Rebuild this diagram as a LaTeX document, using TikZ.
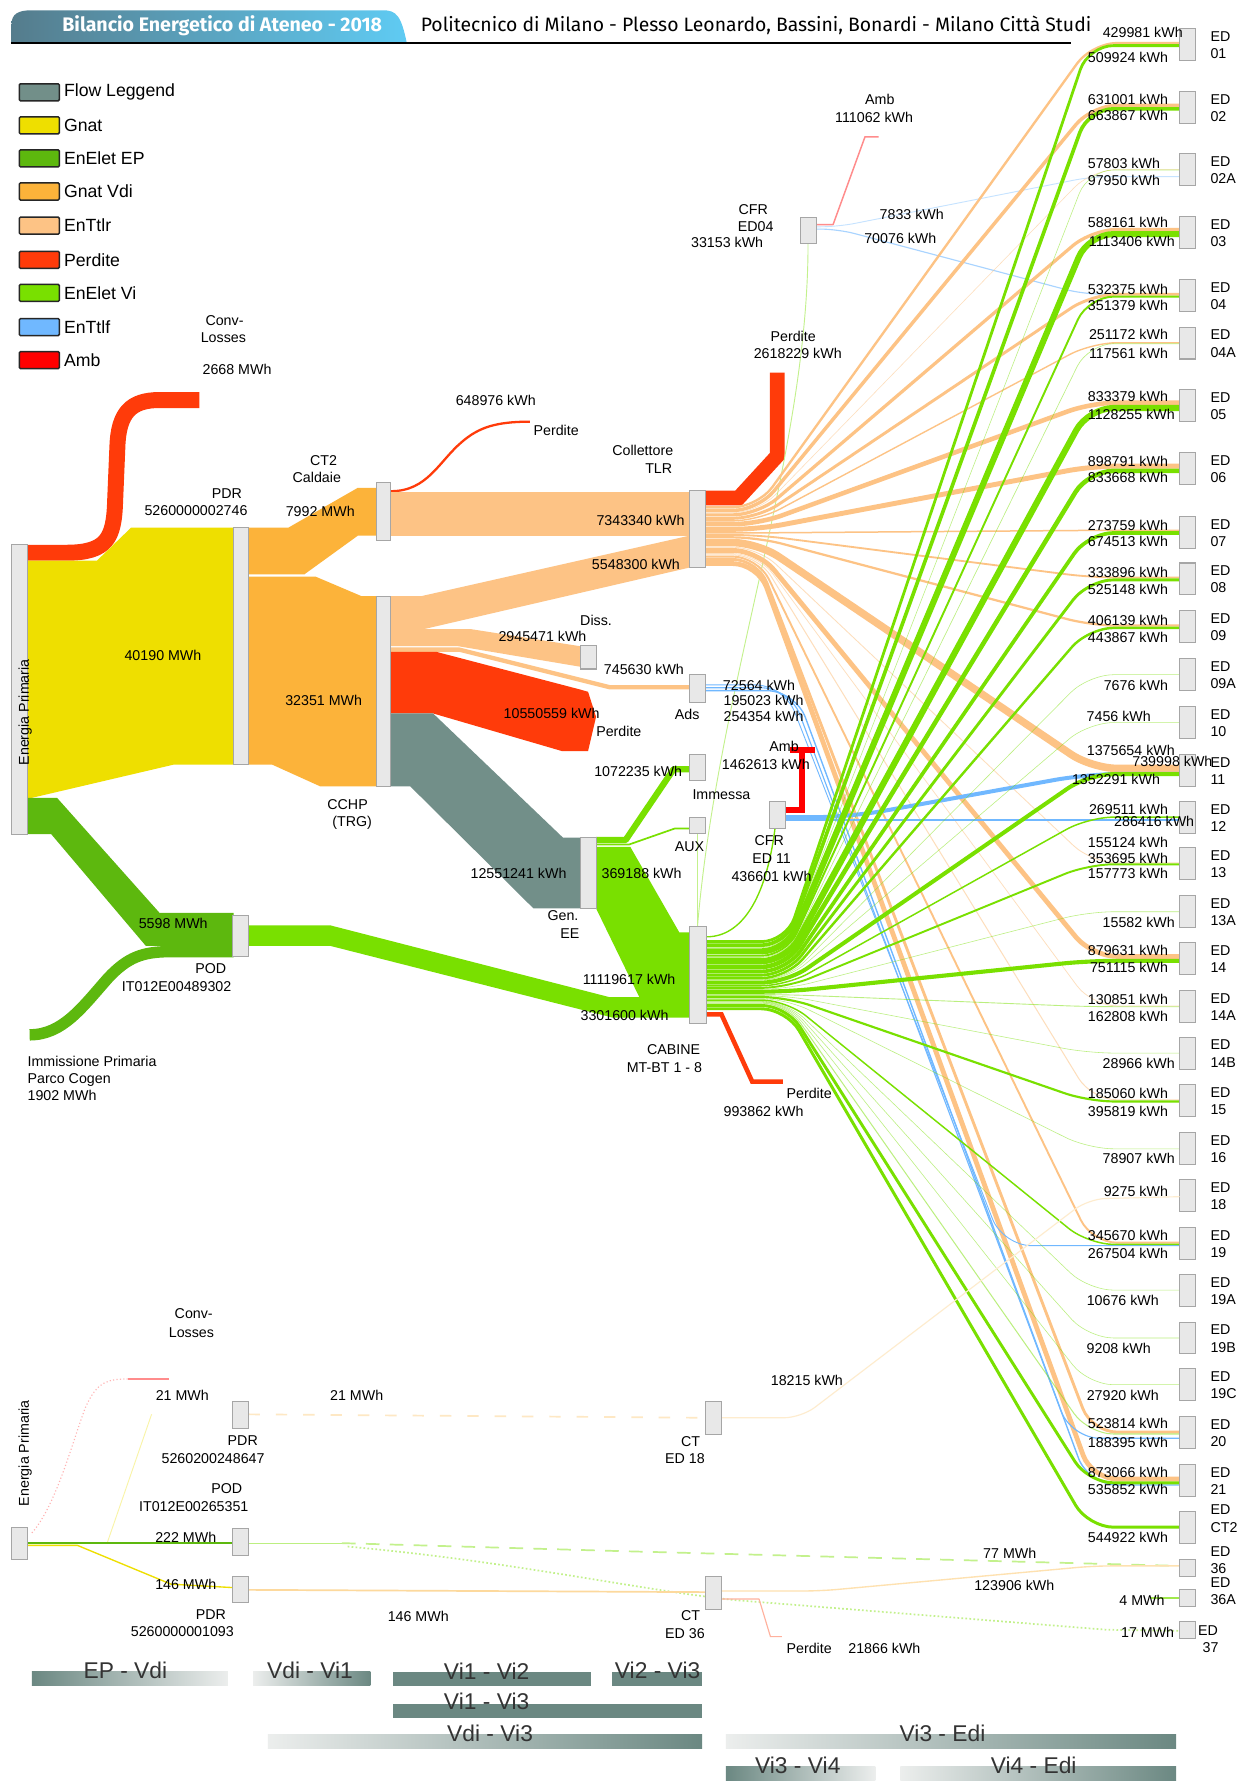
\documentclass[tikz,border=0pt]{standalone}
\usepackage{fontspec}
\setmainfont{Liberation Sans}
\newfontfamily\titlefont{Fira Sans}
\begin{document}
\definecolor{cgrey}{HTML}{728F89}
\definecolor{cgnat}{HTML}{EEDF00}
\definecolor{cep}{HTML}{5DB80E}
\definecolor{cvdi}{HTML}{FCB33A}
\definecolor{cttr}{HTML}{FDC385}
\definecolor{cper}{HTML}{FF3B0A}
\definecolor{cvi}{HTML}{79E000}
\definecolor{cttf}{HTML}{70B8FF}
\definecolor{camb}{HTML}{FF0000}
\definecolor{nodefill}{HTML}{E8E8E8}
\definecolor{nodeline}{HTML}{A6A6A6}
\definecolor{tabdark}{HTML}{557C8C}
\definecolor{tablight}{HTML}{5FCBF3}
\definecolor{bardark}{HTML}{6B8882}
\definecolor{barlight}{HTML}{ECEEED}
\newcommand\lblfont{\fontsize{12.5}{15}\selectfont}
\newcommand\legfont{\fontsize{15.5}{17}\selectfont}
\newcommand\bartxtfont{\fontsize{20}{22}\selectfont}
\newcommand\mkbar[5]{\node[bar,minimum width=#4pt,minimum height=#5pt] (#1) at (#2,#3) {};}
\begin{tikzpicture}[x=1pt,y=-1pt,
 bar/.style={draw=nodeline,fill=nodefill,line width=0.9pt,inner sep=0pt,outer sep=0pt,anchor=north west},
 lbl/.style={font=\lblfont,inner sep=0pt},
 vl/.style={lbl,anchor=east},
 legbox/.style={draw=black!85,line width=1.3pt,minimum width=35pt,minimum height=15pt,inner sep=0pt,rounded corners=1pt},
 legtxt/.style={font=\legfont,anchor=west,inner sep=0pt},
 bartxt/.style={font=\bartxtfont,text=black!80,inner sep=0pt},
 thin/.style={line width=#1pt,line cap=butt,line join=round},
]
\useasboundingbox (0,0) rectangle (1087,1568);
\fill[white] (0,0) rectangle (1087,1568);

% ---------------- title
\shade[left color=tabdark,right color=tablight] (10,38) -- (10,22) .. controls (10,12) and (16,9) .. (28,9) -- (336,9) .. controls (348,9) and (352,14) .. (357,38) -- cycle;
\node[text=white,font=\titlefont\bfseries\fontsize{17.2}{19}\selectfont,inner sep=0pt] (title) at (195,23) {Bilancio Energetico di Ateneo - 2018};
\node[anchor=west,font=\titlefont\fontsize{17}{19}\selectfont,inner sep=0pt] (subtitle) at (369,22) {Politecnico di Milano - Plesso Leonardo, Bassini, Bonardi - Milano Città Studi};
\draw[line width=2pt] (10,38) -- (940,38);

% ---------------- legend
\foreach \yy/\col/\txt [count=\i] in {81/cgrey/Flow Leggend,110/cgnat/Gnat,139/cep/EnElet EP,168/cvdi/Gnat Vdi,198/cttr/EnTtlr,228/cper/Perdite,257/cvi/EnElet Vi,287/cttf/EnTtlf,316/camb/Amb}{
  \node[legbox,fill=\col] (leg\i) at (34.5,\yy) {};
  \node[legtxt] (legt\i) at (56,\yy) {\txt};
}

% ---------------- main flows (Vdi part)
\draw[cper,thin=14] (24,485) -- (58,485) .. controls (94,485) and (100,472) .. (101,440) -- (103,392) .. controls (104,362) and (115,351) .. (140,351) -- (175,351);
\fill[cgnat] (24,492) -- (85,492) -- (115,463) -- (205,463) -- (205,671) -- (152,671) -- (24,701) -- cycle;
\fill[cep] (24,700) -- (50,700) -- (140,801) -- (205,801) -- (205,830) -- (128,830) -- (45,732) -- (24,732) -- cycle;
\draw[cep,thin=10] (26,908) .. controls (55,908) and (72,884) .. (95,858) .. controls (112,840) and (125,835) .. (150,835) -- (205,835);
\fill[cvdi] (218,463) -- (253,463) -- (314,428) -- (330,428) -- (330,470) -- (314,470) -- (267,504) -- (218,504) -- cycle;
\fill[cvdi] (218,506) -- (277,506) -- (317,523) -- (330,523) -- (330,690) -- (281,690) -- (239,671) -- (218,671) -- cycle;
\draw[cper,thin=2] (343,431) .. controls (375,431) and (385,405) .. (405,388) .. controls (420,375) and (435,370) .. (465,370);
\fill[cttr] (343,432) -- (605,432) -- (605,470) -- (343,470) -- cycle;
\fill[cttr] (343,523) -- (370,523) -- (605,470) -- (605,498) -- (372,552) -- (343,552) -- cycle;
\fill[cttr] (343,552) -- (413,552) -- (509,567) -- (509,585) -- (402,567) -- (343,567) -- cycle;
\draw[cttr,thin=3.8] (343,570) -- (403,570) -- (535,603) -- (605,603);
\fill[cper] (343,572) -- (383,572) -- (509,605) -- (516,607) -- (523,629) -- (516,659) -- (493,659) -- (380,626) -- (343,626) -- cycle;
\fill[cgrey] (343,626) -- (380,626) -- (494,735) -- (509,735) -- (509,797) -- (468,797) -- (360,690) -- (343,690) -- cycle;
\draw[cvi,thin=5.5] (523,737) -- (549,737) -- (591,675) -- (605,675);
\draw[cvi,thin=1.5] (523,741) -- (552,741) -- (592,727) -- (605,727);
\fill[cvi] (523,743) -- (553,743) -- (596,818) -- (605,818) -- (605,875) -- (561,875) -- (523,797) -- cycle;
\fill[cvi] (218,812) -- (290,812) -- (535,875) -- (605,875) -- (605,893) -- (538,893) -- (290,830) -- (218,830) -- cycle;
\draw[cper,thin=13,line join=miter] (619,437) -- (648,437) -- (682,400) -- (682,327);
\draw[cper,thin=4,line join=miter] (620,890) -- (633,890) -- (660,949) -- (687,949);
\draw[cvi!45,thin=0.8] (612,813) .. controls (630,600) and (709,400) .. (709,214);
\draw[cvi!45,thin=0.8] (612,731) -- (612,813);
\draw[cvi,thin=1.2] (620,822) .. controls (650,822) and (672,790) .. (680,727);
\draw[camb!45,thin=1.3] (716,197) -- (731,197) -- (759,120) -- (771,120);
\draw[cttf!40,thin=0.8,rounded corners=15pt] (716,199) -- (735,199) -- (958,155) -- (1035,155);
\draw[cttf!60,thin=1,rounded corners=15pt] (716,201) -- (735,201) -- (950,258) -- (1035,258);

% ---------------- distribution to buildings
\def\EDlist{25/01/430.0/509.9/0, 80/02/631.0/663.9/0, 135/02A/57.8/98.0/0, 190/03/588.2/1113.4/0, 245/04/532.4/351.4/0, 287/04A/251.2/117.6/0, 342/05/833.4/1128.3/0, 397/06/898.8/833.7/0, 453/07/273.8/674.5/0, 494/08/333.9/525.1/0, 536/09/406.1/443.9/0, 578/09A/0/7.7/0, 620/10/0/7.5/0, 662/11/1375.7/740.0/0, 703/12/0/269.5/0, 744/13/155.1/353.7/0, 786/13A/0/15.6/0, 827/14/879.6/751.1/0, 869/14A/130.9/162.8/0, 910/14B/0/29.0/0, 952/15/185.1/395.8/0, 994/16/0/78.9/0, 1035/18/0/0/0, 1077/19/345.7/267.5/0, 1118/19A/0/10.7/0, 1160/19B/0/9.2/0, 1201/19C/0/27.9/0, 1243/20/523.8/188.4/0, 1285/21/873.1/535.9/0, 1326/CT2/0/544.9/-8}
\gdef\oy{444}
\foreach \t/\id/\vo/\vg/\dy in \EDlist {
  \pgfmathsetmacro\wo{\vo*0.0048}
  \pgfmathsetmacro\wg{\vg*0.0048}
  \ifdim\vo pt>0pt
    \pgfmathsetmacro\ys{\oy+\wo/2}
    \pgfmathsetmacro\ye{\t+14-(\wo+\wg)/2+\wo/2}
    \pgfmathsetmacro\lw{max(\wo,0.5)}
    \pgfmathsetmacro\op{(\wo<1) ? 0.55 : 1}
    \draw[cttr,line width=\lw pt,opacity=\op,rounded corners=22pt] (619,\ys) -- (665,\ys) -- (958,\ye) -- (1035,\ye);
    \pgfmathsetmacro\nx{\oy+\wo+0.33}
    \xdef\oy{\nx}
  \fi
}
\draw[cttf,thin=3.5,rounded corners=30pt] (689,717) -- (745,717) -- (955,679) -- (1035,679);
\draw[cttf,thin=1.5] (689,719.5) -- (1035,719.5);
\draw[cttf,thin=0.8,rounded corners=25pt] (619,601) -- (688,601) -- (880,1093) -- (1035,1093);
\draw[cttf,thin=1,rounded corners=25pt] (619,603.5) -- (693,603.5) -- (940,1262) -- (1035,1262);
\draw[cttf,thin=1.2,rounded corners=25pt] (619,606) -- (698,606) -- (955,1303) -- (1035,1303);
\gdef\gy{825}
\foreach \t/\id/\vo/\vg/\dy in \EDlist {
  \pgfmathsetmacro\wo{\vo*0.0048}
  \pgfmathsetmacro\wg{\vg*0.0048}
  \ifdim\vg pt>0pt
    \pgfmathsetmacro\ys{\gy+\wg/2}
    \pgfmathsetmacro\ye{\t+14-(\wo+\wg)/2+\wo+\wg/2}
    \pgfmathsetmacro\lw{max(\wg,0.5)}
    \pgfmathsetmacro\op{(\wg<1) ? 0.5 : 1}
    \draw[cvi,line width=\lw pt,opacity=\op,rounded corners=22pt] (620,\ys) -- (690,\ys) -- (955,\ye) -- (1035,\ye);
    \pgfmathsetmacro\nx{\gy+\wg+0.33}
    \xdef\gy{\nx}
  \fi
}
\draw[camb,thin=5,line join=miter] (689,711) -- (704,711) -- (704,658);
\draw[camb,thin=5] (693,658) -- (715,658);

% ---------------- bars (main)
\mkbar{ep}{10}{478}{14}{254}
\mkbar{pdr}{205}{463}{13}{208}
\mkbar{ct2}{330}{423}{13}{51}
\mkbar{cchp}{330}{523}{13}{167}
\mkbar{diss}{509}{566}{14}{21}
\mkbar{tlr}{605}{430}{14}{68}
\mkbar{ads}{605}{592}{14}{24}
\mkbar{imm}{605}{662}{14}{23}
\mkbar{aux}{605}{717}{14}{14}
\mkbar{cfr11}{675}{703}{14}{24}
\mkbar{genee}{509}{735}{14}{62}
\mkbar{pod}{204}{803}{14}{36}
\mkbar{cabine}{605}{813}{15}{85}
\mkbar{cfr04}{702}{191}{14}{23}
\foreach \t/\id/\vo/\vg/\dy in \EDlist {
  \node[bar,minimum width=14pt,minimum height=28pt] (ed\id) at (1035,\t) {};
  \node[lbl,anchor=north west,align=left] (edl\id) at (1062,\t+2.5+\dy) {ED\\\id};
}

% ---------------- labels (main)
\node[lbl,rotate=90] (eplbl) at (22,625) {Energia Primaria};
\foreach \xx/\yy/\txt [count=\i] in {197/281/Conv-,196/296/Losses,208/324/2668 MWh,435/351/648976 kWh,488/378/Perdite,199/433/PDR,172/448/5260000002746,284/404/CT2,278/419/Caldaie,281/449/7992 MWh,564/395/Collettore,578/411/TLR,696/295/Perdite,700/310/2618229 kWh,661/184/CFR,663/199/ED04,638/213/33153 kWh,772/87/Amb,767/103/111062 kWh,800/188/7833 kWh,790/209/70076 kWh,562/457/7343340 kWh,558/495/5548300 kWh,143/575/40190 MWh,284/615/32351 MWh,523/544/Diss.,476/558/2945471 kWh,565/587/745630 kWh,666/601/72564 kWh,670/615/195023 kWh,670/629/254354 kWh,603/627/Ads,484/626/10550559 kWh,543/642/Perdite,560/677/1072235 kWh,633/697/Immessa,688/655/Amb,672/671/1462613 kWh,605/743/AUX,675/738/CFR,677/753/ED 11,677/769/436601 kWh,305/706/CCHP,309/722/(TRG),455/766/12551241 kWh,563/766/369188 kWh,494/803/Gen.,500/819/EE,152/810/5598 MWh,185/850/POD,155/866/IT012E00489302,552/859/11119617 kWh,548/891/3301600 kWh,591/921/CABINE,583/937/MT-BT 1 - 8,710/959/Perdite,670/975/993862 kWh}{
  \node[lbl] (ml\i) at (\xx,\yy) {\txt};
}
\node[lbl,anchor=west,align=left] (immlbl) at (24,946) {Immissione Primaria\\Parco Cogen\\1902 MWh};
\foreach \yy/\xx/\txt [count=\i] in {28/1038/429981,50/1025/509924,87/1025/631001,101/1025/663867,143/1018/57803,158/1018/97950,195/1025/588161,212/1031/1113406,254/1025/532375,268/1025/351379,293/1025/251172,310/1025/117561,348/1025/833379,364/1031/1128255,405/1025/898791,419/1025/833668,461/1025/273759,475/1025/674513,502/1025/333896,517/1025/525148,544/1025/406139,559/1025/443867,601/1025/7676,629/1010/7456,658/1031/1375654,668/1064/739998,684/1018/1352291,710/1025/269511,721/1048/286416,739/1025/155124,753/1025/353695,766/1025/157773,809/1031/15582,834/1025/879631,849/1025/751115,877/1025/130851,892/1025/162808,933/1031/28966,959/1025/185060,975/1025/395819,1016/1031/78907,1045/1025/9275,1084/1025/345670,1100/1025/267504,1141/1017/10676,1183/1010/9208,1224/1017/27920,1249/1025/523814,1266/1025/188395,1292/1025/873066,1307/1025/535852,1349/1025/544922}{
  \node[vl] (vl\i) at (\xx,\yy) {\txt\ kWh};
}

% ---------------- lower system
\draw[camb!30,thin=1,dotted] (28,1345) .. controls (50,1320) and (65,1260) .. (75,1235) .. controls (85,1212) and (95,1210) .. (112,1210);
\draw[camb!45,thin=1.2] (112,1210) -- (148,1210);
\draw[cgnat!35,thin=0.8] (94,1354) -- (133,1241);
\draw[cep,thin=1.6] (24,1354) -- (204,1354);
\draw[cgnat,thin=1.2] (24,1356) -- (68,1356) -- (150,1390) -- (204,1393);
\draw[cvi!50,thin=1] (218,1354) -- (300,1354);
\draw[cvi!45,thin=1.5,dash pattern=on 12pt off 9pt] (300,1354) -- (544,1361) -- (1035,1374);
\draw[cvi!45,thin=1.5,dotted] (305,1357) .. controls (450,1370) and (560,1395) .. (645,1404) -- (971,1430) -- (1035,1431);
\draw[cvi!70,thin=1.2] (1010,1402) -- (1035,1402);
\draw[cvdi!50,thin=1.5] (218,1395) -- (619,1397);
\draw[cvdi!40,thin=1.2,rounded corners=15pt] (633,1396) -- (720,1396) -- (960,1374) -- (1035,1374);
\draw[cper!40,thin=1] (633,1403) -- (666,1403) -- (676,1436) -- (686,1436);
\draw[cvdi!30,thin=1.5,dash pattern=on 10pt off 14pt] (218,1241) -- (619,1244);
\draw[cvdi!25,thin=1,rounded corners=15pt] (633,1244) -- (703,1244) -- (955,1052) -- (1035,1050);

\mkbar{ep2}{10}{1340}{14}{28}
\mkbar{pdr1}{204}{1230}{14}{23}
\mkbar{pod2}{204}{1341}{14}{24}
\mkbar{pdr2}{204}{1383}{14}{23}
\mkbar{cted18}{619}{1230}{14}{29}
\mkbar{cted36}{619}{1383}{14}{29}
\mkbar{ed36}{1035}{1368}{14}{15}
\mkbar{ed36a}{1035}{1395}{14}{15}
\mkbar{ed37}{1035}{1423}{14}{15}
\node[lbl,anchor=north west,align=left] (edl36) at (1062,1357) {ED\\36};
\node[lbl,anchor=north west,align=left] (edl36a) at (1062,1384) {ED\\36A};
\node[lbl,anchor=north west,align=left] (edl37) at (1051,1426) {ED\\\hspace*{4pt}37};

\node[lbl,rotate=90] (ep2lbl) at (22,1275) {Energia Primaria};
\foreach \xx/\yy/\txt [count=\i] in {170/1153/Conv-,168/1169/Losses,160/1224/21 MWh,313/1224/21 MWh,213/1264/PDR,187/1280/5260200248647,199/1306/POD,170/1322/IT012E00265351,163/1349/222 MWh,163/1390/146 MWh,185/1417/PDR,160/1432/5260000001093,367/1418/146 MWh,606/1265/CT,601/1280/ED 18,708/1211/18215 kWh,606/1418/CT,601/1433/ED 36,886/1363/77 MWh,890/1391/123906 kWh,1002/1404/4 MWh,1007/1432/17 MWh,710/1446/Perdite,776/1446/21866 kWh}{
  \node[lbl] (bl\i) at (\xx,\yy) {\txt};
}

% ---------------- phase bars
\shade[left color=bardark,right color=barlight] (28,1467) rectangle (200,1479);
\shade[left color=barlight,right color=bardark] (222,1467) rectangle (325,1479);
\fill[bardark] (345,1467) rectangle (519,1479);
\fill[bardark] (537,1467) rectangle (616,1479);
\fill[bardark] (345,1495) rectangle (616,1507);
\shade[left color=barlight,right color=bardark] (235,1522) rectangle (616,1534);
\shade[left color=barlight,right color=bardark] (637,1522) rectangle (1032,1534);
\shade[left color=bardark,right color=barlight] (637,1550) rectangle (768,1562);
\shade[left color=barlight,right color=bardark] (790,1550) rectangle (1032,1562);
\foreach \xx/\yy/\txt [count=\i] in {110/1466/EP - Vdi,272/1466/Vdi - Vi1,427/1466/Vi1 - Vi2,577/1466/Vi2 - Vi3,427/1493/Vi1 - Vi3,430/1521/Vdi - Vi3,827/1521/Vi3 - Edi,700/1549/Vi3 - Vi4,907/1549/Vi4 - Edi}{
  \node[bartxt] (pb\i) at (\xx,\yy) {\txt};
}
\end{tikzpicture}
\end{document}
